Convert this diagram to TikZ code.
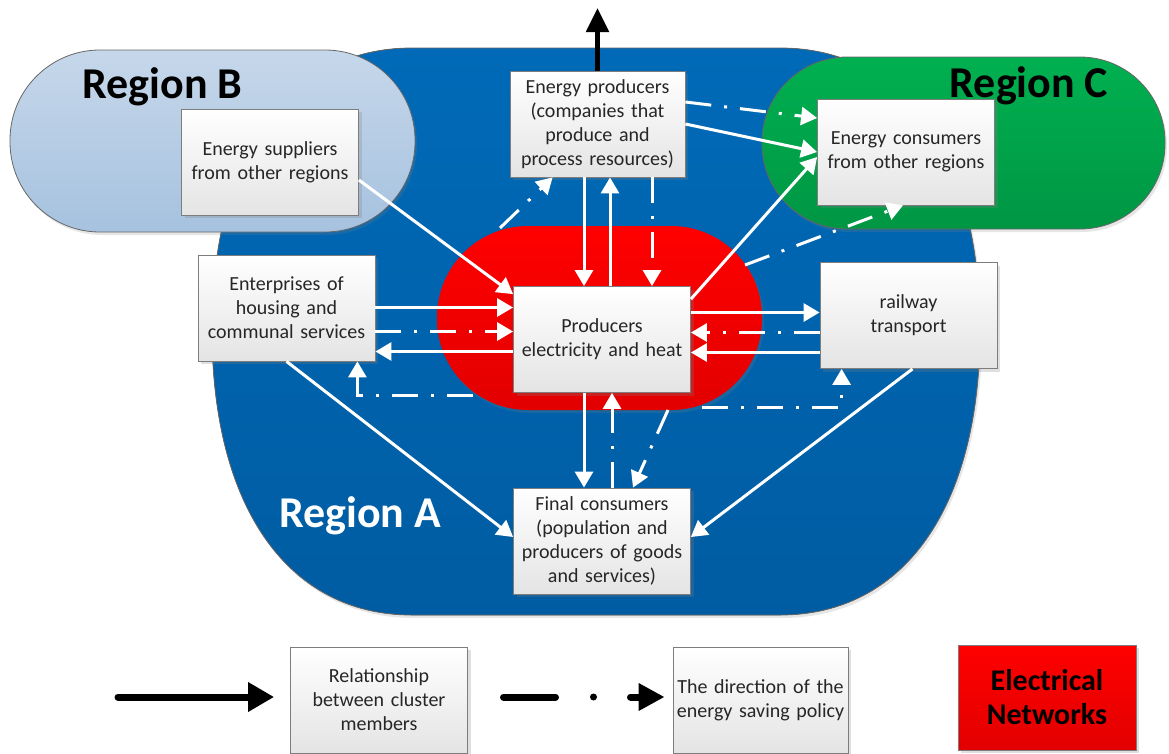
\documentclass[tikz,border=0pt]{standalone}
\usepackage{fontspec}
\setmainfont{Carlito}
\usetikzlibrary{arrows.meta}
\usetikzlibrary{shadows}

\definecolor{blueA}{RGB}{0,106,184}
\definecolor{blueAdark}{RGB}{0,92,162}
\definecolor{blueB}{RGB}{198,215,234}
\definecolor{blueBdark}{RGB}{166,194,223}
\definecolor{greenC}{RGB}{0,176,80}
\definecolor{greenCdark}{RGB}{0,150,68}
\definecolor{netred}{RGB}{255,0,0}
\definecolor{netreddark}{RGB}{226,0,0}
\definecolor{boxgray}{RGB}{228,228,228}
\definecolor{boxline}{RGB}{125,125,125}

\begin{document}
\begin{tikzpicture}[x=1pt, y=-1pt, >={Triangle[length=16pt, width=18pt]},
  member/.style={draw=boxline, line width=0.8pt, top color=white, bottom color=boxgray,
    minimum width=177pt, minimum height=106pt, text width=172pt, align=center,
    inner sep=0pt, text=black!85, font=\fontsize{20}{24}\selectfont,
    drop shadow={opacity=0.25, shadow xshift=3pt, shadow yshift=-3pt}},
  region/.style={draw=black!60, line width=0.8pt, inner sep=0pt,
    drop shadow={opacity=0.2, shadow xshift=2pt, shadow yshift=-3pt}},
  title/.style={anchor=base, font=\fontsize{44}{50}\selectfont\bfseries},
  flow/.style={white, line width=3pt, ->},
  policy/.style={flow, dash pattern=on 26pt off 13pt on 3pt off 13pt}]
\useasboundingbox (0,0) rectangle (1169,753);

% regions
\fill[top color=blueA, bottom color=blueAdark, draw=black!60, line width=0.8pt,
  drop shadow={opacity=0.2, shadow xshift=2pt, shadow yshift=-3pt}]
  (212,330) .. controls (212,155) and (288,48) .. (412,48) -- (780,48)
  .. controls (904,48) and (980,155) .. (980,330)
  .. controls (980,507) and (904,615) .. (780,615) -- (412,615)
  .. controls (288,615) and (212,507) .. (212,330) -- cycle;
\node[region, top color=blueB, bottom color=blueBdark, rounded corners=90pt,
  minimum width=405pt, minimum height=182pt] (regB) at (212.5,141) {};
\node[region, top color=greenC, bottom color=greenCdark, rounded corners=85pt,
  minimum width=403pt, minimum height=172pt] (regC) at (963.5,143) {};
\node[region, draw=none, top color=netred, bottom color=netreddark, rounded corners=91pt,
  minimum width=325pt, minimum height=184pt] (grid) at (599.5,318) {};

\node[title] at (162.5,98) {Region B};
\node[title] at (1029,97) {Region C};
\node[title, white] at (360,527) {Region A};

% cluster members
\node[member] (sup) at (270,162) {Energy suppliers\\from other regions};
\node[member] (cons) at (906,152) {Energy consumers\\from other regions};
\node[member, minimum width=175pt] (eprod) at (597.5,124)
  {Energy producers\\(companies that\\produce and\\process resources)};
\node[member] (ent) at (286.5,308) {Enterprises of\\housing and\\communal services};
\node[member] (prd) at (602,339.5) {Producers\\electricity and heat};
\node[member] (rail) at (908.5,315.5) {railway\\transport};
\node[member] (fin) at (602,541)
  {Final consumers\\(population and\\producers of goods\\and services)};

\coordinate (w1) at (473,395);
\coordinate (w2) at (500,228);
\coordinate (w3) at (745,265);
\coordinate (w4) at (702,407);
\coordinate (w5) at (668,410);
\coordinate (up) at (597.5,8);

\draw[line width=5pt, >={Triangle[length=24pt, width=22pt]}, ->] (eprod.north) -- (up);

\draw[flow] ([yshift=-18pt]sup.east) -- ([yshift=-8pt]prd.north west);
\draw[flow] ([yshift=32pt]prd.west -| ent.east) -- ([yshift=32pt]prd.west);
\draw[policy] ([yshift=8pt]prd.west -| ent.east) -- ([yshift=8pt]prd.west);
\draw[flow] ([yshift=-12pt]prd.west) -- ([yshift=-12pt]prd.west -| ent.east);
\draw[policy] (w1) -| ([xshift=-18pt]ent.south east);
\draw[flow] (ent.south) -- ([yshift=4pt]fin.west);

\draw[flow] ([xshift=-18pt]prd.north |- eprod.south) -- ([xshift=-18pt]prd.north);
\draw[flow] ([xshift=8pt]prd.north) -- ([xshift=8pt]prd.north |- eprod.south);
\draw[policy] ([xshift=50pt]prd.north |- eprod.south) -- ([xshift=50pt]prd.north);
\draw[policy] (w2) -- ([xshift=43pt]eprod.south west);

\draw[policy] ([yshift=22pt]eprod.east) -- ([yshift=34pt]cons.west);
\draw[flow] (eprod.east) -- (cons.west);
\draw[flow] ([yshift=-13pt]prd.north east) -- ([yshift=-5pt]cons.west);
\draw[policy] (w3) -- ([xshift=-3pt]cons.south);

\draw[flow] ([yshift=27pt]prd.east) -- ([yshift=27pt]prd.east -| rail.west);
\draw[policy] ([yshift=7pt]prd.east -| rail.west) -- ([yshift=7pt]prd.east);
\draw[flow] ([yshift=-13pt]prd.east -| rail.west) -- ([yshift=-13pt]prd.east);
\draw[policy] (w4) -| ([xshift=22pt]rail.south west);
\draw[flow] ([xshift=4pt]rail.south) -- ([yshift=4pt]fin.east);

\draw[flow] ([xshift=-18pt]prd.south) -- ([xshift=-18pt]prd.south |- fin.north);
\draw[policy] ([xshift=10pt]prd.south |- fin.north) -- ([xshift=10pt]prd.south);
\draw[policy] (w5) -- ([xshift=31pt]fin.north);

% legend
\node[member] (rel) at (379,700) {Relationship\\between cluster\\members};
\node[member, minimum width=175pt] (dir) at (760.5,700) {The direction of the\\energy saving policy};
\node[member, top color=netred, bottom color=netreddark, minimum width=178pt,
  minimum height=105pt, text=black, font=\fontsize{30}{34}\selectfont\bfseries]
  (key) at (1047,697.5) {Electrical\\Networks};

\coordinate (k1) at (118,697);
\coordinate (k2) at (503.5,697);
\draw[line width=7pt, line cap=round, >={Triangle[length=26pt, width=28pt]}, ->]
  (k1) -- ([xshift=-16pt, yshift=3pt]rel.west);
\draw[line width=7pt, line cap=round, dash pattern=on 52pt off 38pt on 0pt off 37pt on 60pt,
  >={Triangle[length=26pt, width=26pt]}, ->] (k2) -- ([xshift=-8pt, yshift=3pt]dir.west);
\end{tikzpicture}
\end{document}
